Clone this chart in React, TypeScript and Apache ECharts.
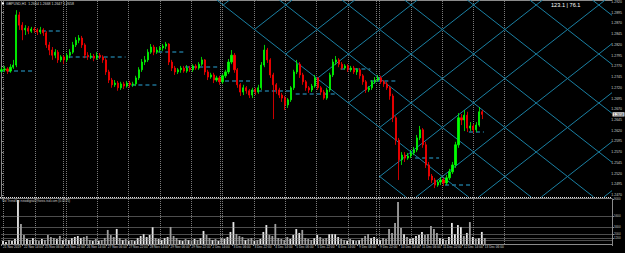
import React, { useEffect, useRef } from 'react';
import * as echarts from 'echarts';

// ---------- data ----------
const SYMBOL = 'GBPUSD,H1';
const FIRST_OPEN = 1.2759;

const CLOSES = [
  1.2762, 1.2764, 1.2759, 1.2768, 1.2773, 1.2890, 1.2866, 1.2855, 1.2859, 1.2852,
  1.2857, 1.2855, 1.2850, 1.2855, 1.2848, 1.2820, 1.2808, 1.2796, 1.2803, 1.2785,
  1.2792, 1.2785, 1.2796, 1.2803, 1.2820, 1.2831, 1.2836, 1.2820, 1.2796, 1.2792,
  1.2794, 1.2789, 1.2796, 1.2792, 1.2785, 1.2757, 1.2738, 1.2727, 1.2731, 1.2720,
  1.2729, 1.2724, 1.2731, 1.2727, 1.2729, 1.2743, 1.2762, 1.2780, 1.2785, 1.2803,
  1.2815, 1.2803, 1.2808, 1.2813, 1.2817, 1.2822, 1.2780, 1.2766, 1.2757, 1.2762,
  1.2766, 1.2759, 1.2766, 1.2762, 1.2771, 1.2766, 1.2775, 1.2785, 1.2757, 1.2745,
  1.2750, 1.2738, 1.2743, 1.2734, 1.2748, 1.2757, 1.2780, 1.2796, 1.2762, 1.2727,
  1.2710, 1.2720, 1.2713, 1.2703, 1.2715, 1.2710, 1.2720, 1.2773, 1.2808, 1.2785,
  1.2750, 1.2727, 1.2715, 1.2703, 1.2696, 1.2680, 1.2692, 1.2720, 1.2757, 1.2775,
  1.2750, 1.2734, 1.2720, 1.2715, 1.2724, 1.2743, 1.2720, 1.2710, 1.2696, 1.2715,
  1.2750, 1.2780, 1.2785, 1.2775, 1.2766, 1.2771, 1.2762, 1.2766, 1.2757, 1.2762,
  1.2748, 1.2734, 1.2715, 1.2720, 1.2734, 1.2738, 1.2743, 1.2734, 1.2729, 1.2720,
  1.2701, 1.2650, 1.2598, 1.2552, 1.2563, 1.2556, 1.2561, 1.2568, 1.2575, 1.2603,
  1.2622, 1.2587, 1.2540, 1.2514, 1.2505, 1.2493, 1.2500, 1.2505, 1.2498, 1.2510,
  1.2524, 1.2540, 1.2587, 1.2650, 1.2645, 1.2656, 1.2626, 1.2631, 1.2622, 1.2633,
  1.2664, 1.2658,
];

const HIGHS = [
  1.2768, 1.2771, 1.2768, 1.2775, 1.2785, 1.2901, 1.2897, 1.2873, 1.2866, 1.2864,
  1.2862, 1.2862, 1.2859, 1.2862, 1.2859, 1.2852, 1.2827, 1.2815, 1.2810, 1.2808,
  1.2796, 1.2796, 1.2801, 1.2810, 1.2827, 1.2838, 1.2843, 1.2841, 1.2824, 1.2803,
  1.2801, 1.2799, 1.2803, 1.2801, 1.2796, 1.2789, 1.2762, 1.2743, 1.2738, 1.2736,
  1.2734, 1.2734, 1.2736, 1.2736, 1.2734, 1.2748, 1.2768, 1.2787, 1.2794, 1.2810,
  1.2822, 1.2820, 1.2815, 1.2817, 1.2822, 1.2827, 1.2824, 1.2785, 1.2771, 1.2766,
  1.2771, 1.2771, 1.2773, 1.2771, 1.2775, 1.2775, 1.2780, 1.2792, 1.2787, 1.2762,
  1.2755, 1.2755, 1.2748, 1.2748, 1.2752, 1.2762, 1.2787, 1.2808, 1.2801, 1.2766,
  1.2731, 1.2727, 1.2724, 1.2717, 1.2720, 1.2720, 1.2727, 1.2780, 1.2820, 1.2813,
  1.2789, 1.2755, 1.2731, 1.2720, 1.2708, 1.2701, 1.2696, 1.2724, 1.2762, 1.2785,
  1.2780, 1.2755, 1.2738, 1.2724, 1.2729, 1.2750, 1.2745, 1.2724, 1.2715, 1.2720,
  1.2755, 1.2787, 1.2794, 1.2789, 1.2780, 1.2775, 1.2775, 1.2771, 1.2771, 1.2766,
  1.2766, 1.2752, 1.2738, 1.2724, 1.2738, 1.2745, 1.2750, 1.2748, 1.2738, 1.2734,
  1.2724, 1.2706, 1.2654, 1.2603, 1.2570, 1.2570, 1.2568, 1.2575, 1.2582, 1.2610,
  1.2631, 1.2626, 1.2594, 1.2547, 1.2519, 1.2510, 1.2505, 1.2512, 1.2510, 1.2517,
  1.2531, 1.2547, 1.2594, 1.2661, 1.2659, 1.2668, 1.2664, 1.2640, 1.2636, 1.2640,
  1.2675, 1.2668,
];

const LOWS = [
  1.2755, 1.2757, 1.2752, 1.2755, 1.2764, 1.2768, 1.2855, 1.2831, 1.2843, 1.2845,
  1.2848, 1.2848, 1.2843, 1.2845, 1.2841, 1.2813, 1.2796, 1.2785, 1.2789, 1.2778,
  1.2780, 1.2775, 1.2780, 1.2789, 1.2799, 1.2815, 1.2824, 1.2813, 1.2789, 1.2785,
  1.2787, 1.2782, 1.2785, 1.2787, 1.2778, 1.2750, 1.2731, 1.2720, 1.2722, 1.2713,
  1.2715, 1.2717, 1.2720, 1.2720, 1.2722, 1.2724, 1.2738, 1.2757, 1.2773, 1.2780,
  1.2799, 1.2796, 1.2799, 1.2803, 1.2806, 1.2810, 1.2773, 1.2759, 1.2750, 1.2752,
  1.2755, 1.2755, 1.2755, 1.2757, 1.2757, 1.2762, 1.2762, 1.2771, 1.2750, 1.2738,
  1.2741, 1.2731, 1.2734, 1.2727, 1.2729, 1.2743, 1.2752, 1.2775, 1.2755, 1.2720,
  1.2701, 1.2703, 1.2706, 1.2696, 1.2696, 1.2703, 1.2706, 1.2715, 1.2768, 1.2778,
  1.2743, 1.2647, 1.2706, 1.2696, 1.2687, 1.2668, 1.2673, 1.2687, 1.2715, 1.2752,
  1.2743, 1.2727, 1.2713, 1.2708, 1.2710, 1.2720, 1.2715, 1.2703, 1.2692, 1.2692,
  1.2710, 1.2745, 1.2773, 1.2768, 1.2762, 1.2762, 1.2757, 1.2757, 1.2752, 1.2750,
  1.2741, 1.2727, 1.2708, 1.2710, 1.2715, 1.2729, 1.2734, 1.2729, 1.2722, 1.2715,
  1.2692, 1.2640, 1.2587, 1.2505, 1.2540, 1.2547, 1.2552, 1.2556, 1.2563, 1.2570,
  1.2598, 1.2580, 1.2533, 1.2505, 1.2498, 1.2486, 1.2489, 1.2493, 1.2491, 1.2493,
  1.2505, 1.2519, 1.2533, 1.2580, 1.2633, 1.2619, 1.2617, 1.2619, 1.2615, 1.2617,
  1.2629, 1.2647,
];

const VOLUMES = [
  620, 410, 780, 590, 1010, 8800, 4020, 1790, 1010, 820,
  1180, 790, 610, 990, 820, 1810, 1390, 1210, 980, 1620,
  790, 1010, 820, 1190, 1410, 1600, 1210, 1390, 1610, 810,
  610, 990, 620, 790, 1210, 2810, 1790, 1410, 3010, 1190,
  810, 990, 610, 790, 590, 1210, 1590, 2010, 1390, 1810,
  3390, 1190, 990, 810, 1210, 1390, 3410, 1610, 1190, 790,
  610, 990, 790, 610, 1010, 790, 1190, 2610, 1810, 1210,
  810, 990, 610, 1190, 1010, 1390, 2410, 4390, 2010, 1610,
  1390, 790, 1010, 1190, 610, 790, 1010, 2410, 3790, 1810,
  1610, 4010, 1190, 1010, 790, 1390, 1010, 1810, 2990, 2210,
  2810, 1190, 1010, 790, 1190, 1790, 1390, 1010, 1190, 1990,
  2010, 1990, 1390, 1010, 790, 610, 1010, 790, 610, 790,
  1190, 1610, 2010, 1190, 1390, 1010, 790, 1190, 1010, 2990,
  2210, 4190, 8410, 3190, 1990, 1390, 1010, 1190, 1610, 1790,
  2410, 1790, 1990, 3610, 2990, 2210, 1190, 1010, 790, 1390,
  4210, 1990, 3790, 3410, 1610, 2210, 4390, 1390, 1010, 1190,
  2410, 1190,
];

const PRICE_TICKS = [
  1.2920, 1.2895, 1.2870, 1.2845, 1.2820, 1.2795, 1.2770, 1.2745, 1.2720, 1.2695,
  1.2670, 1.2645, 1.2620, 1.2595, 1.2570, 1.2545, 1.2520, 1.2495, 1.2470,
];
const PRICE_MIN = 1.24653;
const PRICE_MAX = 1.29247;

const VOLUME_MAX = 9000;
const VOLUME_LEVELS = [800, 1200, 2000, 3400, 5600];
const VOLUME_TICKS = [800, 1200, 2000, 3400, 5600, 9000];

const TIME_LABELS = [
  '21 Nov 2019', '22 Nov 14:00', '25 Nov 06:00', '25 Nov 22:00', '26 Nov 14:00', '27 Nov 06:00',
  '27 Nov 22:00', '28 Nov 14:00', '29 Nov 06:00', '29 Nov 22:00', '2 Dec 14:00', '3 Dec 06:00',
  '3 Dec 22:00', '4 Dec 14:00', '5 Dec 06:00', '5 Dec 22:00', '6 Dec 14:00', '9 Dec 06:00',
  '9 Dec 22:00', '10 Dec 14:00', '11 Dec 06:00', '11 Dec 22:00', '12 Dec 14:00', '13 Dec 06:00',
];
const LABEL_EVERY = 7;
const TOTAL_SLOTS = 204; // bars + right shift

// dashed level segments: [fromBar, toBar, price]
const LEVEL_FROM = [0, 14, 23, 44, 53, 62, 73, 84, 99, 114, 124, 139, 149, 157];
const LEVEL_TO = [10, 20, 41, 52, 61, 72, 83, 97, 112, 123, 132, 146, 157, 161];
const LEVEL_PRICE = [
  1.2759, 1.2852, 1.2792, 1.2727, 1.2803, 1.2768, 1.2736, 1.2713, 1.2706, 1.2764,
  1.2736, 1.2556, 1.2493, 1.2617,
];

const TOP_RIGHT_TEXT = '123.1 | 76.1';
const VOL_TITLE = 'Vol Trend by newdigital@forex-tsd.com (0.0575)';

// ---------- layout / decoration ----------
const W = 625;
const H = 253;
const PLOT_W = 612;
const MAIN_H = 197;
const VOL_TOP = 199;
const VOL_H = 45;
const FONT = 'Liberation Sans, Arial, sans-serif';
const GRID_X = [3.5, 35.5, 63.5, 66.5, 97.5, 128.5, 160.5, 191.5, 220.5, 222.5, 254.5, 285.5, 316.5, 348.5, 376.5, 379.5, 411.5, 442.5, 473.5, 504.5];
// Gann-grid style lattice (drawing object, pixel geometry)
const LAT = { x0: 411, y0: 5, hw: 31.3, hh: 24.5, cutX: 217, fullFromX: 379 };

function latticeSegments() {
  const s = LAT.hh / LAT.hw;
  const cB = -s * LAT.cutX;
  const segs: number[][] = [];
  for (let k = -12; k <= 16; k++) {
    const c = LAT.y0 - s * LAT.x0 + 2 * LAT.hh * k;
    let xa = Math.max(0, (0 - c) / s);
    const xb = Math.min(PLOT_W, (MAIN_H - c) / s);
    if (c > cB + 0.5) xa = Math.max(xa, LAT.fullFromX);
    if (xb > xa) segs.push([xa, s * xa + c, xb, s * xb + c]);
    const d = LAT.y0 + s * LAT.x0 + 2 * LAT.hh * k;
    let ua = Math.max(0, (d - MAIN_H) / s);
    const ub = Math.min(PLOT_W, d / s);
    const xA = (d - cB) / (2 * s);
    ua = Math.max(ua, Math.min(xA, LAT.fullFromX));
    if (ub > ua) segs.push([ua, d - s * ua, ub, d - s * ub]);
  }
  return segs;
}

const n = CLOSES.length;
const last = n - 1;
const OPENS = CLOSES.map((c, i) => (i === 0 ? FIRST_OPEN : CLOSES[i - 1]));
const fmt = (v: number) => v.toFixed(4);

function buildOption() {
  const candleData = CLOSES.map((c, i) => [OPENS[i], c, LOWS[i], HIGHS[i]]);
  const categories = Array.from({ length: TOTAL_SLOTS }, (_, i) => String(i));
  const isLabelSlot = (i: number) => i % LABEL_EVERY === 0 && i / LABEL_EVERY < TIME_LABELS.length && i < n;
  const title = `${SYMBOL}  ${fmt(OPENS[last])} ${fmt(HIGHS[last])} ${fmt(LOWS[last])} ${fmt(CLOSES[last])}`;

  const graphics: any[] = [];
  graphics.push({ type: 'line', z: 1, silent: true, shape: { x1: 0, y1: 0.5, x2: PLOT_W, y2: 0.5 }, style: { stroke: '#8a8a8a', lineWidth: 1 } });
  GRID_X.forEach((x) => {
    graphics.push({ type: 'line', z: 1, silent: true, shape: { x1: x, y1: 1, x2: x, y2: VOL_TOP + VOL_H }, style: { stroke: '#7a7a7a', lineWidth: 1, lineDash: [1, 1] } });
  });
  latticeSegments().forEach(([x1, y1, x2, y2]) => {
    graphics.push({ type: 'line', z: 1, silent: true, shape: { x1, y1, x2, y2 }, style: { stroke: '#1a7fa2', lineWidth: 1 } });
  });
  graphics.push({ type: 'line', z: 5, silent: true, shape: { x1: 0, y1: 197.5, x2: PLOT_W, y2: 197.5 }, style: { stroke: '#e0e0e0', lineWidth: 1, lineDash: [1, 1] } });
  graphics.push({ type: 'line', z: 5, silent: true, shape: { x1: 0, y1: 198.5, x2: PLOT_W, y2: 198.5 }, style: { stroke: '#7a7a7a', lineWidth: 1 } });
  graphics.push({ type: 'rect', z: 10, silent: true, shape: { x: 2, y: 2.5, width: 2, height: 2 }, style: { fill: '#ffffff' } });
  graphics.push({ type: 'text', z: 10, silent: true, x: 6, y: 1.8, style: { text: title, fill: '#d8d8d8', fontSize: 3.5, fontFamily: FONT } });
  graphics.push({ type: 'text', z: 10, silent: true, x: 2, y: 199.3, style: { text: VOL_TITLE, fill: '#c8c8c8', fontSize: 3.2, fontFamily: FONT } });
  graphics.push({ type: 'text', z: 10, silent: true, x: 551, y: 1.5, style: { text: TOP_RIGHT_TEXT, fill: '#ffffff', fontSize: 5.6, fontFamily: FONT } });
  graphics.forEach((g, i) => { g.id = `g${i}`; });

  return {
    animation: false,
    backgroundColor: '#000000',
    grid: [
      { left: 0, top: 0, width: PLOT_W, height: MAIN_H },
      { left: 0, top: VOL_TOP, width: PLOT_W, height: VOL_H },
    ],
    xAxis: [
      { type: 'category', gridIndex: 0, data: categories, boundaryGap: true, show: false },
      {
        type: 'category', gridIndex: 1, data: categories, boundaryGap: true,
        axisLine: { show: true, lineStyle: { color: '#8a8a8a', width: 1 } },
        axisTick: { show: true, length: 2, interval: (i: number) => isLabelSlot(i), lineStyle: { color: '#8a8a8a' } },
        axisLabel: {
          interval: (i: number) => isLabelSlot(i),
          formatter: (_v: string, i: number) => (isLabelSlot(i) ? TIME_LABELS[i / LABEL_EVERY] : ''),
          align: 'left', fontSize: 3.2, color: '#d0d0d0', margin: 1.5, fontFamily: FONT,
        },
        splitLine: { show: false },
      },
      { type: 'value', gridIndex: 0, min: -0.5, max: TOTAL_SLOTS - 0.5, show: false },
    ],
    yAxis: [
      {
        type: 'value', gridIndex: 0, position: 'right', min: PRICE_MIN, max: PRICE_MAX,
        axisLine: { show: true, lineStyle: { color: '#8a8a8a' } },
        axisTick: { show: true, length: 2, customValues: PRICE_TICKS, lineStyle: { color: '#8a8a8a' } },
        axisLabel: { customValues: PRICE_TICKS, formatter: (v: number) => v.toFixed(4), fontSize: 3.5, color: '#d0d0d0', margin: 2, fontFamily: FONT },
        splitLine: { show: false },
      },
      {
        type: 'value', gridIndex: 1, position: 'right', min: 0, max: VOLUME_MAX,
        axisLine: { show: true, lineStyle: { color: '#8a8a8a' } },
        axisTick: { show: true, length: 2, customValues: VOLUME_TICKS, lineStyle: { color: '#8a8a8a' } },
        axisLabel: { customValues: VOLUME_TICKS, formatter: (v: number) => String(v), fontSize: 3, color: '#c0c0c0', margin: 2, fontFamily: FONT },
        splitLine: { show: false },
      },
    ],
    series: [
      {
        type: 'lines', coordinateSystem: 'cartesian2d', xAxisIndex: 2, yAxisIndex: 0, silent: true, z: 2,
        polyline: false,
        lineStyle: { color: '#1c6f90', width: 1.5, type: [4, 3], opacity: 1 },
        data: LEVEL_PRICE.map((p, k) => ({ coords: [[LEVEL_FROM[k] - 0.5, p], [LEVEL_TO[k] + 0.5, p]] })),
      },
      {
        type: 'candlestick', xAxisIndex: 0, yAxisIndex: 0, z: 3, barWidth: 1.6,
        data: candleData,
        itemStyle: { color: '#00ff00', color0: '#ff0000', borderColor: '#00ff00', borderColor0: '#ff0000', borderWidth: 0.8 },
      },
      {
        type: 'bar', xAxisIndex: 1, yAxisIndex: 1, barWidth: 1.8, z: 3,
        data: VOLUMES.map((v, i) => ({ value: v, itemStyle: { color: CLOSES[i] >= OPENS[i] ? '#e8e8e8' : '#a0a0a0' } })),
        markLine: {
          silent: true, symbol: ['none', 'none'], label: { show: false },
          lineStyle: { color: '#9a9a9a', type: [1, 1], width: 1 },
          data: VOLUME_LEVELS.map((v) => ({ yAxis: v })),
        },
      },
    ],
    graphic: { elements: graphics },
  };
}

export default function App() {
  const ref = useRef<HTMLDivElement>(null);
  useEffect(() => {
    if (!ref.current) return;
    const chart = echarts.init(ref.current, undefined, { renderer: 'svg' });
    chart.setOption(buildOption() as any);
    // current-price box on the price scale, placed through the axis scale
    const y = chart.convertToPixel({ yAxisIndex: 0 }, CLOSES[last]) as number;
    if (typeof y === 'number' && isFinite(y)) {
      chart.setOption({
        graphic: {
          elements: [
            { id: 'pbox', type: 'rect', z: 12, silent: true, shape: { x: 612.5, y: y - 2.1, width: 12, height: 4.2 }, style: { fill: '#e8e8e8' } },
            { id: 'ptext', type: 'text', z: 13, silent: true, x: 613.5, y: y, style: { text: fmt(CLOSES[last]), fill: '#000000', fontSize: 3.3, fontFamily: FONT, verticalAlign: 'middle' } },
          ],
        },
      } as any);
    }
    return () => chart.dispose();
  }, []);
  return (
    <div
      ref={ref}
      style={{ position: 'fixed', left: 0, top: 0, width: W, height: H, background: '#000' }}
    />
  );
}
